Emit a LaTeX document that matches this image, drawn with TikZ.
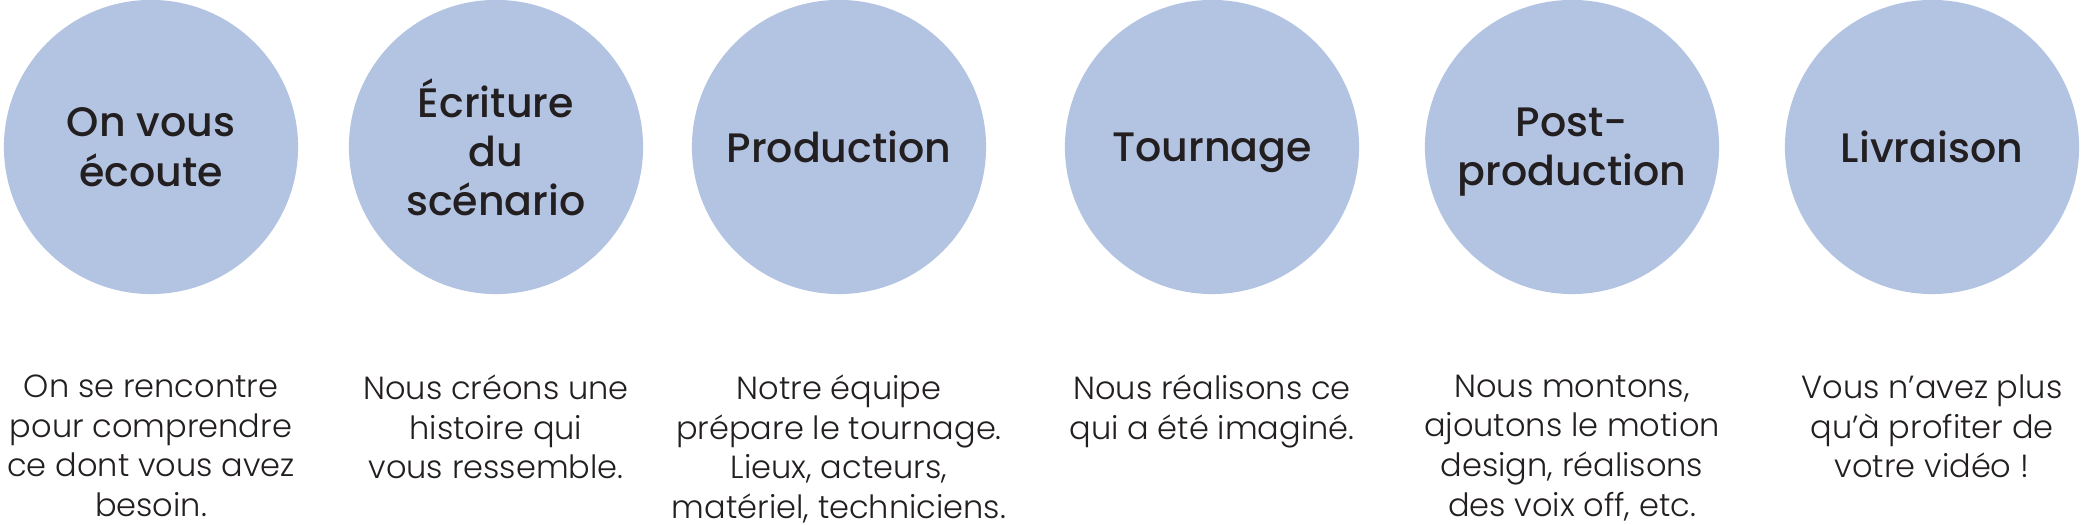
\documentclass[tikz,border=0pt]{standalone}
\usepackage{fontspec}
\setmainfont{Poppins}
\newfontfamily\headfont{Poppins Medium}
\newfontfamily\descfont{Poppins Light}
\definecolor{stepblue}{HTML}{B3C4E3}
\definecolor{inkdark}{HTML}{231F20}
\tikzset{
  stepdisc/.style={circle, fill=stepblue, minimum size=2.94cm, inner sep=0pt,
    align=center, text=inkdark, text depth=0pt,
    font=\headfont\fontsize{11.7}{14}\selectfont},
  stepnote/.style={anchor=north, inner sep=0pt, align=center, text=inkdark,
    font=\descfont\fontsize{9.1}{11.3}\selectfont}
}
\begin{document}
\begin{tikzpicture}[x=0.01cm, y=-0.01cm]
  \useasboundingbox (0, 0) rectangle (2082, 525);
  % the six steps
  \node[stepdisc] (ecoute) at (151, 147) {On vous\\écoute};
  \node[stepdisc] (ecriture) at (496, 147) {Écriture\\du\\scénario};
  \node[stepdisc] (production) at (839, 147) {Production};
  \node[stepdisc] (tournage) at (1212, 147) {Tournage};
  \node[stepdisc] (postprod) at (1572, 147) {Post-\\production};
  \node[stepdisc] (livraison) at (1932, 147) {Livraison};
  % what happens at each step
  \node[stepnote] (ecoutetxt) at (151, 374) {On se rencontre\\pour comprendre\\ce dont vous avez\\besoin.};
  \node[stepnote] (ecrituretxt) at (496, 374) {Nous créons une\\histoire qui\\vous ressemble.};
  \node[stepnote] (productiontxt) at (839, 374) {Notre équipe\\prépare le tournage.\\Lieux, acteurs,\\matériel, techniciens.};
  \node[stepnote] (tournagetxt) at (1212, 374) {Nous réalisons ce\\qui a été imaginé.};
  \node[stepnote] (postprodtxt) at (1572, 374) {Nous montons,\\ajoutons le motion\\design, réalisons\\des voix off, etc.};
  \node[stepnote] (livraisontxt) at (1932, 374) {Vous n’avez plus\\qu’à profiter de\\votre vidéo !};
\end{tikzpicture}
\end{document}
